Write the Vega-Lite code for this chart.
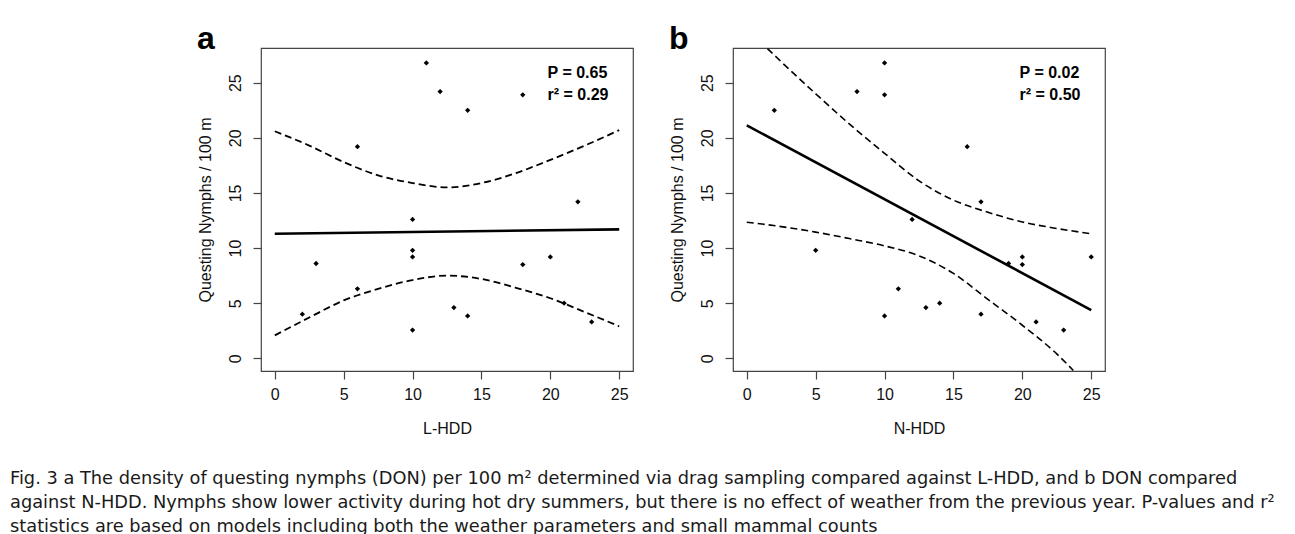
{
  "$schema": "https://vega.github.io/schema/vega-lite/v6.json",
  "padding": {"left": 10, "top": 22, "right": 5, "bottom": 5},
  "background": "white",
  "datasets": {
    "pts": [
      {"L": 11, "N": 10, "DON": 26.8},
      {"L": 12, "N": 8, "DON": 24.2},
      {"L": 18, "N": 10, "DON": 23.9},
      {"L": 14, "N": 2, "DON": 22.5},
      {"L": 6, "N": 16, "DON": 19.2},
      {"L": 22, "N": 17, "DON": 14.2},
      {"L": 10, "N": 12, "DON": 12.6},
      {"L": 10, "N": 5, "DON": 9.8},
      {"L": 10, "N": 20, "DON": 9.2},
      {"L": 20, "N": 25, "DON": 9.2},
      {"L": 3, "N": 19, "DON": 8.6},
      {"L": 18, "N": 20, "DON": 8.5},
      {"L": 6, "N": 11, "DON": 6.3},
      {"L": 21, "N": 14, "DON": 5.0},
      {"L": 13, "N": 13, "DON": 4.6},
      {"L": 2, "N": 17, "DON": 4.0},
      {"L": 14, "N": 10, "DON": 3.85},
      {"L": 23, "N": 21, "DON": 3.3},
      {"L": 10, "N": 23, "DON": 2.56}
    ],
    "bandA": [
      {"x": 0, "bound": "upper", "y": 20.6},
      {"x": 2.5, "bound": "upper", "y": 19.3},
      {"x": 5, "bound": "upper", "y": 17.8},
      {"x": 7.5, "bound": "upper", "y": 16.6},
      {"x": 10, "bound": "upper", "y": 15.9},
      {"x": 12.5, "bound": "upper", "y": 15.5},
      {"x": 15, "bound": "upper", "y": 15.9},
      {"x": 17.5, "bound": "upper", "y": 16.8},
      {"x": 20, "bound": "upper", "y": 18.0},
      {"x": 22.5, "bound": "upper", "y": 19.3},
      {"x": 25, "bound": "upper", "y": 20.7},
      {"x": 0, "bound": "lower", "y": 2.08},
      {"x": 2.5, "bound": "lower", "y": 3.7},
      {"x": 5, "bound": "lower", "y": 5.25},
      {"x": 7.5, "bound": "lower", "y": 6.3},
      {"x": 10, "bound": "lower", "y": 7.1},
      {"x": 12.5, "bound": "lower", "y": 7.5},
      {"x": 15, "bound": "lower", "y": 7.2},
      {"x": 17.5, "bound": "lower", "y": 6.4},
      {"x": 20, "bound": "lower", "y": 5.45},
      {"x": 22.5, "bound": "lower", "y": 4.2},
      {"x": 25, "bound": "lower", "y": 2.9}
    ],
    "fitA": [
      {"x": 0, "y": 11.3},
      {"x": 25, "y": 11.7}
    ],
    "bandB": [
      {"x": 1.5, "bound": "upper", "y": 28.1},
      {"x": 2.5, "bound": "upper", "y": 26.9},
      {"x": 5, "bound": "upper", "y": 24.0},
      {"x": 7.5, "bound": "upper", "y": 21.2},
      {"x": 10, "bound": "upper", "y": 18.6},
      {"x": 12.5, "bound": "upper", "y": 16.1},
      {"x": 15, "bound": "upper", "y": 14.35},
      {"x": 17.5, "bound": "upper", "y": 13.25},
      {"x": 20, "bound": "upper", "y": 12.37},
      {"x": 22.5, "bound": "upper", "y": 11.78},
      {"x": 25, "bound": "upper", "y": 11.3},
      {"x": 0, "bound": "lower", "y": 12.35},
      {"x": 2.5, "bound": "lower", "y": 11.95},
      {"x": 5, "bound": "lower", "y": 11.45},
      {"x": 7.5, "bound": "lower", "y": 10.85},
      {"x": 10, "bound": "lower", "y": 10.2},
      {"x": 12.5, "bound": "lower", "y": 9.3},
      {"x": 15, "bound": "lower", "y": 7.7},
      {"x": 17.5, "bound": "lower", "y": 5.35},
      {"x": 20, "bound": "lower", "y": 3.0},
      {"x": 22.5, "bound": "lower", "y": 0.4},
      {"x": 23.7, "bound": "lower", "y": -1.1}
    ],
    "fitB": [
      {"x": 0, "y": 21.13},
      {"x": 25, "y": 4.38}
    ],
    "statsA": [
      {"label": "P = 0.65", "row": 1},
      {"label": "r² = 0.29", "row": 2}
    ],
    "statsB": [
      {"label": "P = 0.02", "row": 1},
      {"label": "r² = 0.50", "row": 2}
    ]
  },
  "config": {
    "font": "Liberation Sans",
    "view": {"stroke": "#444", "strokeWidth": 1.2},
    "axis": {
      "grid": false,
      "domain": false,
      "ticks": true,
      "tickSize": 8,
      "tickColor": "#444",
      "tickWidth": 1.2,
      "labelFont": "Liberation Sans",
      "labelFontSize": 16,
      "labelColor": "#111",
      "titleFont": "Liberation Sans",
      "titleFontSize": 16,
      "titleFontWeight": "normal",
      "titleColor": "#111"
    },
    "axisX": {"labelPadding": 7, "titlePadding": 18, "labelFlush": false},
    "axisY": {"labelAngle": -90, "labelAlign": "center", "labelBaseline": "alphabetic", "labelPadding": 13, "titlePadding": 14}
  },
  "title": {
    "text": [
      "Fig. 3 a The density of questing nymphs (DON) per 100 m² determined via drag sampling compared against L-HDD, and b DON compared",
      "against N-HDD. Nymphs show lower activity during hot dry summers, but there is no effect of weather from the previous year. P-values and r²",
      "statistics are based on models including both the weather parameters and small mammal counts"
    ],
    "orient": "bottom",
    "anchor": "start",
    "frame": "group",
    "dx": -251,
    "offset": 33,
    "font": "DejaVu Sans",
    "fontSize": 17.8,
    "fontWeight": "normal",
    "color": "#1a1a1a",
    "lineHeight": 24
  },
  "spacing": 34,
  "hconcat": [
    {
      "width": 372,
      "height": 323,
      "title": {"text": "a", "anchor": "start", "frame": "bounds", "fontSize": 32, "fontWeight": "bold", "baseline": "alphabetic", "offset": -33, "color": "black"},
      "layer": [
        {
          "data": {"name": "bandA"},
          "mark": {"type": "line", "color": "black", "strokeWidth": 1.8, "strokeDash": [7, 4], "interpolate": "monotone"},
          "encoding": {
            "x": {"field": "x", "type": "quantitative", "scale": {"domain": [-1, 26], "nice": false, "zero": false}, "axis": {"title": "L-HDD", "values": [0, 5, 10, 15, 20, 25]}},
            "y": {"field": "y", "type": "quantitative", "scale": {"domain": [-1.15, 28.15], "nice": false, "zero": false}, "axis": {"title": "Questing Nymphs / 100 m", "values": [0, 5, 10, 15, 20, 25]}},
            "detail": {"field": "bound", "type": "nominal"}
          }
        },
        {
          "data": {"name": "fitA"},
          "mark": {"type": "line", "color": "black", "strokeWidth": 2.6},
          "encoding": {
            "x": {"field": "x", "type": "quantitative"},
            "y": {"field": "y", "type": "quantitative"}
          }
        },
        {
          "data": {"name": "pts"},
          "mark": {"type": "point", "shape": "diamond", "filled": true, "color": "black", "size": 28, "opacity": 1},
          "encoding": {
            "x": {"field": "L", "type": "quantitative"},
            "y": {"field": "DON", "type": "quantitative"}
          }
        },
        {
          "data": {"name": "statsA"},
          "transform": [{"filter": "datum.row == 1"}],
          "mark": {"type": "text", "align": "left", "baseline": "middle", "fontSize": 16, "fontWeight": "bold", "color": "black"},
          "encoding": {
            "x": {"datum": 19.8, "type": "quantitative"},
            "y": {"datum": 25.88, "type": "quantitative"},
            "text": {"field": "label"}
          }
        },
        {
          "data": {"name": "statsA"},
          "transform": [{"filter": "datum.row == 2"}],
          "mark": {"type": "text", "align": "left", "baseline": "middle", "fontSize": 16, "fontWeight": "bold", "color": "black"},
          "encoding": {
            "x": {"datum": 19.8, "type": "quantitative"},
            "y": {"datum": 23.9, "type": "quantitative"},
            "text": {"field": "label"}
          }
        }
      ]
    },
    {
      "width": 372,
      "height": 323,
      "title": {"text": "b", "anchor": "start", "frame": "bounds", "fontSize": 32, "fontWeight": "bold", "baseline": "alphabetic", "offset": -36, "color": "black"},
      "layer": [
        {
          "data": {"name": "bandB"},
          "mark": {"type": "line", "color": "black", "strokeWidth": 1.6, "strokeDash": [7, 4], "interpolate": "monotone"},
          "encoding": {
            "x": {"field": "x", "type": "quantitative", "scale": {"domain": [-1, 26], "nice": false, "zero": false}, "axis": {"title": "N-HDD", "values": [0, 5, 10, 15, 20, 25]}},
            "y": {"field": "y", "type": "quantitative", "scale": {"domain": [-1.15, 28.15], "nice": false, "zero": false}, "axis": {"title": "Questing Nymphs / 100 m", "values": [0, 5, 10, 15, 20, 25]}},
            "detail": {"field": "bound", "type": "nominal"}
          }
        },
        {
          "data": {"name": "fitB"},
          "mark": {"type": "line", "color": "black", "strokeWidth": 2.6},
          "encoding": {
            "x": {"field": "x", "type": "quantitative"},
            "y": {"field": "y", "type": "quantitative"}
          }
        },
        {
          "data": {"name": "pts"},
          "mark": {"type": "point", "shape": "diamond", "filled": true, "color": "black", "size": 28, "opacity": 1},
          "encoding": {
            "x": {"field": "N", "type": "quantitative"},
            "y": {"field": "DON", "type": "quantitative"}
          }
        },
        {
          "data": {"name": "statsB"},
          "transform": [{"filter": "datum.row == 1"}],
          "mark": {"type": "text", "align": "left", "baseline": "middle", "fontSize": 16, "fontWeight": "bold", "color": "black"},
          "encoding": {
            "x": {"datum": 19.8, "type": "quantitative"},
            "y": {"datum": 25.88, "type": "quantitative"},
            "text": {"field": "label"}
          }
        },
        {
          "data": {"name": "statsB"},
          "transform": [{"filter": "datum.row == 2"}],
          "mark": {"type": "text", "align": "left", "baseline": "middle", "fontSize": 16, "fontWeight": "bold", "color": "black"},
          "encoding": {
            "x": {"datum": 19.8, "type": "quantitative"},
            "y": {"datum": 23.9, "type": "quantitative"},
            "text": {"field": "label"}
          }
        }
      ]
    }
  ]
}
